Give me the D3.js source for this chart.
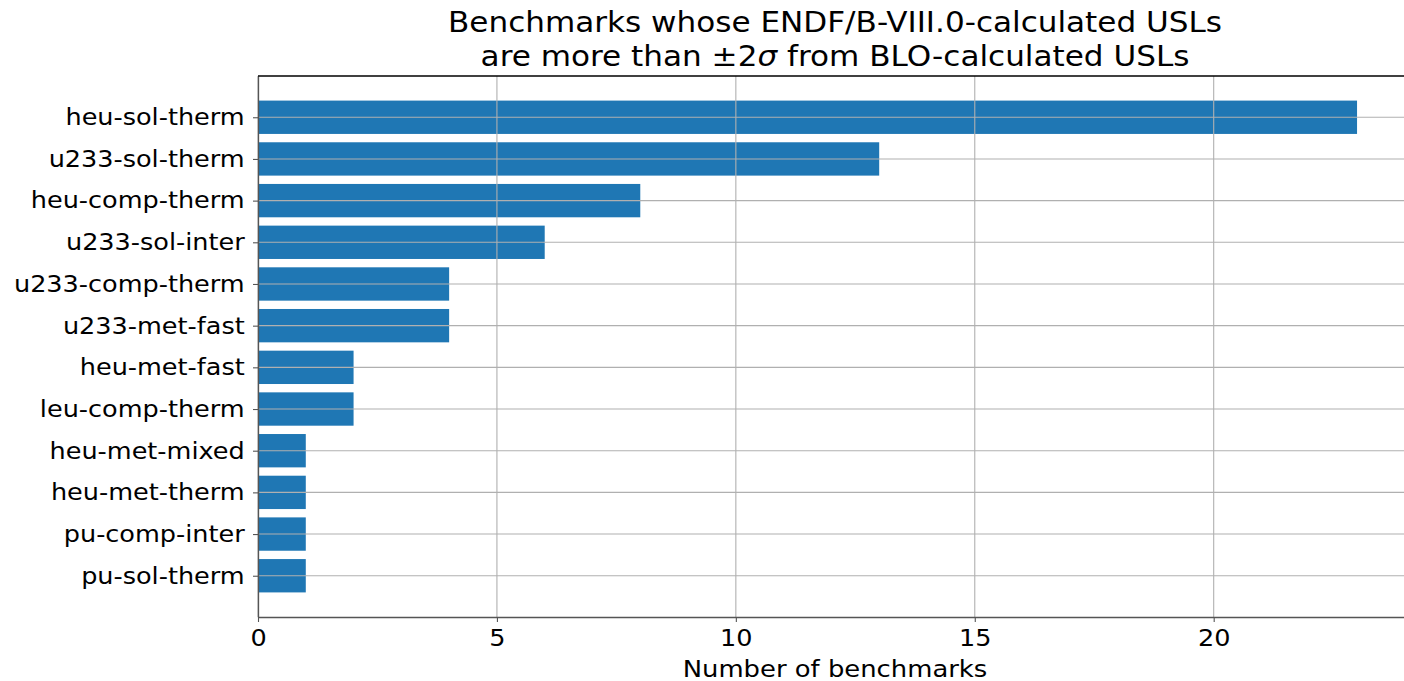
<!DOCTYPE html>
<html>
<head>
<meta charset="utf-8">
<script src="https://cdn.jsdelivr.net/npm/d3@7"></script>
<style>
  body { margin: 0; background: #fff; }
  svg { font-family: "DejaVu Sans", sans-serif; display: block; }
</style>
</head>
<body>
<div id="chart"></div>
<script>
// categories listed bottom to top, as matplotlib plots them
const categories = [
    'pu-sol-therm', 'pu-comp-inter', 'heu-met-therm', 'heu-met-mixed',
    'leu-comp-therm', 'heu-met-fast', 'u233-met-fast', 'u233-comp-therm',
    'u233-sol-inter', 'heu-comp-therm', 'u233-sol-therm', 'heu-sol-therm'
];
const counts = [1, 1, 1, 1, 2, 2, 4, 4, 6, 8, 13, 23];
const xTicks = [0, 5, 10, 15, 20];

const width = 1404;
const height = 681;
const margin = { top: 76, bottom: 64, left: 258, right: -8 };
const stretch = 'scale(1.11,1)'; // the reference text is a bit wide

const svg = d3.select('#chart')
    .append('svg')
    .attr('width', width)
    .attr('height', height);

const x = d3.scaleLinear()
    .domain([0, d3.max(counts) * 1.05])
    .range([margin.left, width - margin.right]);

const y = d3.scaleLinear()
    .domain([-0.4 - 0.59, categories.length - 1 + 0.4 + 0.59])
    .range([height - margin.bottom, margin.top]);

const barH = y(0) - y(0.8);

// bars
svg.append('g')
    .attr('fill', '#1f77b4')
    .selectAll('rect')
    .data(counts)
    .join('rect')
    .attr('x', x(0))
    .attr('y', (d, i) => y(i + 0.4))
    .attr('width', d => x(d) - x(0))
    .attr('height', barH);

// grid on top of bars
const grid = svg.append('g')
    .attr('stroke', '#b0b0b0')
    .attr('stroke-width', 1.1);

grid.selectAll('.vg')
    .data(xTicks)
    .join('line')
    .attr('x1', d => x(d)).attr('x2', d => x(d))
    .attr('y1', margin.top).attr('y2', height - margin.bottom);

grid.selectAll('.hg')
    .data(categories)
    .join('line')
    .attr('x1', margin.left).attr('x2', width)
    .attr('y1', (d, i) => y(i)).attr('y2', (d, i) => y(i));

function xAxis(g) {
    g.attr('transform', `translate(0,${height - margin.bottom})`)
        .call(d3.axisBottom(x).tickValues(xTicks).tickSize(5).tickSizeOuter(0).tickPadding(8))
        .attr('font-size', '23px')
        .attr('font-family', 'DejaVu Sans');
    g.select('.domain').attr('stroke', '#555').attr('stroke-width', 1.3);
    g.selectAll('.tick line').attr('stroke', '#555').attr('stroke-width', 1.1);
    g.selectAll('.tick text').attr('fill', '#000').attr('transform', stretch);
}

function yAxis(g) {
    g.attr('transform', `translate(${margin.left},0)`)
        .call(d3.axisLeft(y).tickValues(d3.range(categories.length))
            .tickFormat(i => categories[i]).tickSize(5).tickSizeOuter(0).tickPadding(7))
        .attr('font-size', '23px')
        .attr('font-family', 'DejaVu Sans');
    g.select('.domain').attr('stroke', '#555').attr('stroke-width', 1.3);
    g.selectAll('.tick line').attr('stroke', '#555').attr('stroke-width', 1.1);
    g.selectAll('.tick text').attr('fill', '#000').attr('transform', stretch);
}

svg.append('g').call(xAxis);
svg.append('g').call(yAxis);

// top spine
svg.append('line')
    .attr('x1', margin.left).attr('x2', width)
    .attr('y1', margin.top).attr('y2', margin.top)
    .attr('stroke', '#000').attr('stroke-width', 1.3);

const cx = (margin.left + width - margin.right) / 2;

// x label
svg.append('g')
    .attr('transform', `translate(${cx},676.5) ${stretch}`)
    .append('text')
    .attr('text-anchor', 'middle')
    .attr('font-size', '23.3px')
    .text('Number of benchmarks');

// title
svg.append('g')
    .attr('transform', `translate(${cx},32) ${stretch}`)
    .append('text')
    .attr('text-anchor', 'middle')
    .attr('font-size', '28px')
    .text('Benchmarks whose ENDF/B-VIII.0-calculated USLs');

const t2 = svg.append('g')
    .attr('transform', `translate(${cx},65.5) ${stretch}`)
    .append('text')
    .attr('text-anchor', 'middle')
    .attr('font-size', '28px');
t2.append('tspan').text('are more than ±2');
t2.append('tspan').attr('font-style', 'italic').text('σ');
t2.append('tspan').text(' from BLO-calculated USLs');
</script>
</body>
</html>
